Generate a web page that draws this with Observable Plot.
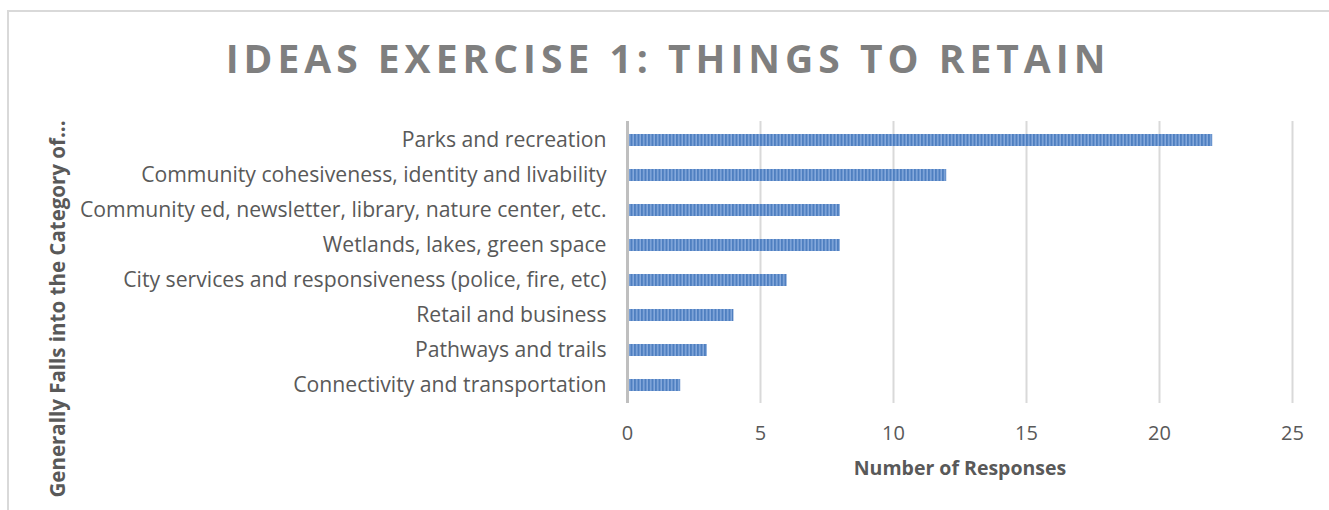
<!DOCTYPE html>
<html>
<head>
<meta charset="utf-8">
<script src="https://cdn.jsdelivr.net/npm/d3@7"></script>
<script src="https://cdn.jsdelivr.net/npm/@observablehq/plot@0.6"></script>
<style>
  html, body { margin: 0; padding: 0; background: #fff; }
  #wrap { position: relative; width: 1329px; height: 510px; overflow: hidden; font-family: "Open Sans", sans-serif; }
  #frame { position: absolute; left: 7px; top: 10px; width: 1340px; height: 520px; border-top: 2px solid #d9d9d9; border-left: 2px solid #d9d9d9; }
  #title { position: absolute; left: 0; top: 31px; width: 1336px; text-align: center; font-size: 39px; font-weight: 700; color: #7f7f7f; letter-spacing: 5px; white-space: nowrap; }
  #ytitle { position: absolute; left: 57px; top: 309px; transform: translate(-50%, -50%) rotate(-90deg); font-size: 20.5px; font-weight: 700; color: #595959; white-space: nowrap; line-height: 1; }
  #chart { position: absolute; left: 0; top: 0; }
</style>
</head>
<body>
<div id="wrap">
  <div id="frame"></div>
  <div id="chart"></div>
  <div id="title">IDEAS EXERCISE 1: THINGS TO RETAIN</div>
  <div id="ytitle">Generally Falls into the Category of...</div>
</div>
<script>
const categories = [
  "Parks and recreation",
  "Community cohesiveness, identity and livability",
  "Community ed, newsletter, library, nature center, etc.",
  "Wetlands, lakes, green space",
  "City services and responsiveness (police, fire, etc)",
  "Retail and business",
  "Pathways and trails",
  "Connectivity and transportation"
];
const responses = [22, 12, 8, 8, 6, 4, 3, 2];
const xTicks = [0, 5, 10, 15, 20, 25];
const xLabel = "Number of Responses";

const data = categories.map((c, i) => ({category: c, value: responses[i]}));

const svg = Plot.plot({
  width: 1329,
  height: 510,
  marginLeft: 627,
  marginRight: 37,
  marginTop: 121,
  marginBottom: 107,
  style: {background: "transparent", fontFamily: "'Open Sans', sans-serif"},
  x: {domain: [0, 25], ticks: xTicks},
  y: {domain: categories, paddingInner: 0.66, paddingOuter: 0.33},
  marks: [
    Plot.gridX(xTicks.filter(d => d > 0), {stroke: "#d9d9d9", strokeWidth: 2, strokeOpacity: 1}),
    Plot.barX(data, {x: "value", y: "category", fill: "#5a87c5"}),
    Plot.ruleX([0], {stroke: "#bfbfbf", strokeWidth: 3, strokeOpacity: 1}),
    Plot.axisX(xTicks, {tickSize: 0, tickPadding: 22, fontSize: 20, fill: "#595959", label: null}),
    Plot.axisY({tickSize: 0, tickPadding: 21, fontSize: 21.2, fill: "#595959", label: null}),
    Plot.text([xLabel], {frameAnchor: "bottom", dy: 71, fontSize: 19.5, fontWeight: 700, fill: "#595959", text: d => d})
  ]
});

// stripe pattern for bars
const defs = d3.select(svg).insert("defs", ":first-child");
const pat = defs.append("pattern")
  .attr("id", "stripes")
  .attr("patternUnits", "userSpaceOnUse")
  .attr("x", 627)
  .attr("width", 3.5)
  .attr("height", 10);
pat.append("rect").attr("width", 3.5).attr("height", 10).attr("fill", "#86aadd");
pat.append("rect").attr("width", 2).attr("height", 10).attr("fill", "#4f7fc0");
d3.select(svg).selectAll("g[aria-label='bar'] rect").attr("fill", "url(#stripes)");

document.getElementById("chart").appendChild(svg);
</script>
</body>
</html>
